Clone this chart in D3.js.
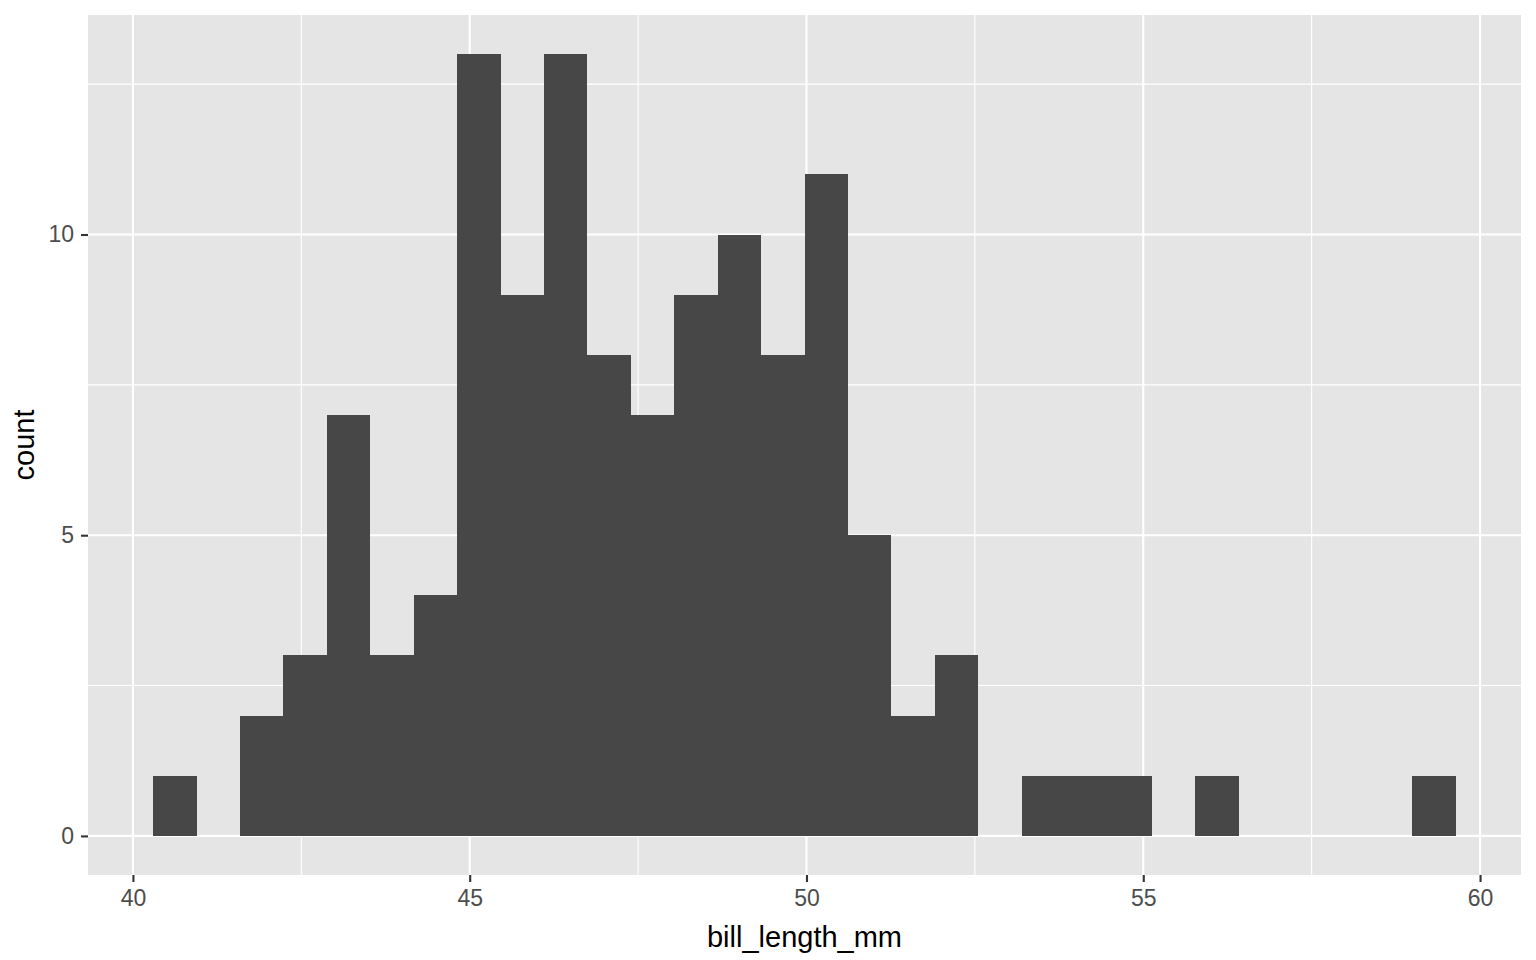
<!DOCTYPE html>
<html>
<head>
<meta charset="utf-8">
<script src="https://cdn.jsdelivr.net/npm/d3@7"></script>
<style>
	body { margin: 0; background: #ffffff; }
	text { font-family: "Liberation Sans", Arial, sans-serif; }
</style>
</head>
<body>
<script>
/* Chart data
***********************************************************************/
// histogram: 30 bins, first bin left edge and width in mm
var binStart = 40.3;
var binWidth = 0.6447;
var counts = [1, 0, 2, 3, 7, 3, 4, 13, 9, 13, 8, 7, 9, 10, 8, 11, 5, 2, 3, 0, 1, 1, 1, 0, 1, 0, 0, 0, 0, 1];

var xTicks = [40, 45, 50, 55, 60];
var xMinor = [42.5, 47.5, 52.5, 57.5];
var yTicks = [0, 5, 10];
var yMinor = [2.5, 7.5, 12.5];

var xTitle = "bill_length_mm";
var yTitle = "count";


/* Setup SVG
***********************************************************************/
var svgW = 1536;
var svgH = 960;

var panel = {left: 88, right: 1521, top: 15, bottom: 875};

var svgContainer = d3.select("body").append("svg")
	.attr("width", svgW)
	.attr("height", svgH);


/* Scales
***********************************************************************/
var binEnd = binStart + binWidth * counts.length;
var xPad = (binEnd - binStart) * 0.05;
var yMax = d3.max(counts);

var xScale = d3.scaleLinear()
	.domain([binStart - xPad, binEnd + xPad])
	.range([panel.left, panel.right]);

var yScale = d3.scaleLinear()
	.domain([-yMax * 0.05, yMax * 1.05])
	.range([panel.bottom, panel.top]);


/* Panel and grid
***********************************************************************/
svgContainer.append("rect")
	.attr("x", panel.left)
	.attr("y", panel.top)
	.attr("width", panel.right - panel.left)
	.attr("height", panel.bottom - panel.top)
	.attr("fill", "#e5e5e5");

var gridGroup = svgContainer.append("g").attr("id", "gridgroup");

function vline(v, w) {
	gridGroup.append("line")
		.attr("x1", xScale(v)).attr("x2", xScale(v))
		.attr("y1", panel.top).attr("y2", panel.bottom)
		.attr("stroke", "#ffffff")
		.attr("stroke-width", w);
}

function hline(v, w) {
	gridGroup.append("line")
		.attr("x1", panel.left).attr("x2", panel.right)
		.attr("y1", yScale(v)).attr("y2", yScale(v))
		.attr("stroke", "#ffffff")
		.attr("stroke-width", w);
}

xMinor.forEach(function(v) { vline(v, 1.1); });
yMinor.forEach(function(v) { hline(v, 1.1); });
xTicks.forEach(function(v) { vline(v, 2.1); });
yTicks.forEach(function(v) { hline(v, 2.1); });


/* Bars
***********************************************************************/
var barGroup = svgContainer.append("g").attr("id", "bargroup");

barGroup.selectAll("rect")
	.data(counts.map(function(c, i) { return {i: i, count: c}; })
		.filter(function(d) { return d.count > 0; }))
	.enter().append("rect")
	.attr("x", function(d) { return xScale(binStart + d.i * binWidth); })
	.attr("width", function(d) {
		return xScale(binStart + (d.i + 1) * binWidth) - xScale(binStart + d.i * binWidth);
	})
	.attr("y", function(d) { return yScale(d.count); })
	.attr("height", function(d) { return yScale(0) - yScale(d.count); })
	.attr("fill", "#474747")
	.attr("shape-rendering", "crispEdges");


/* Axes
***********************************************************************/
var xAxis = d3.axisBottom(xScale)
	.tickValues(xTicks)
	.tickSize(7)
	.tickPadding(8)
	.tickFormat(d3.format("d"));

var yAxis = d3.axisLeft(yScale)
	.tickValues(yTicks)
	.tickSize(7)
	.tickPadding(7)
	.tickFormat(d3.format("d"));

var xAxisG = svgContainer.append("g")
	.attr("transform", "translate(0," + panel.bottom + ")")
	.call(xAxis);

var yAxisG = svgContainer.append("g")
	.attr("transform", "translate(" + panel.left + ",0)")
	.call(yAxis);

[xAxisG, yAxisG].forEach(function(g) {
	g.select(".domain").remove();
	g.selectAll(".tick line")
		.attr("stroke", "#333333")
		.attr("stroke-width", 2.1);
	g.selectAll(".tick text")
		.attr("fill", "#4d4d4d")
		.attr("font-size", "23px")
		.attr("font-family", "Liberation Sans, Arial, sans-serif");
});


/* Axis titles
***********************************************************************/
svgContainer.append("text")
	.text(xTitle)
	.attr("x", (panel.left + panel.right) / 2)
	.attr("y", 946.5)
	.attr("text-anchor", "middle")
	.attr("font-size", "29px")
	.attr("fill", "#000000");

svgContainer.append("text")
	.text(yTitle)
	.attr("transform", "translate(33.5," + ((panel.top + panel.bottom) / 2) + ") rotate(-90)")
	.attr("text-anchor", "middle")
	.attr("font-size", "29px")
	.attr("fill", "#000000");
</script>
</body>
</html>
